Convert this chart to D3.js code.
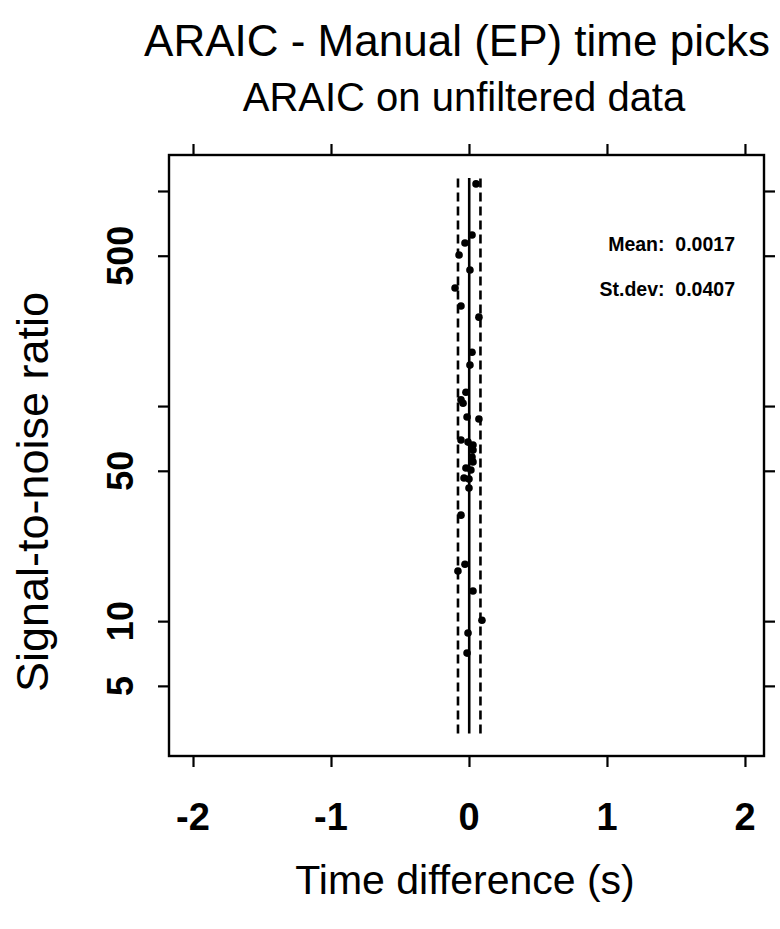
<!DOCTYPE html>
<html>
<head>
<meta charset="utf-8">
<script src="https://cdn.jsdelivr.net/npm/d3@7"></script>
<style>
    body { margin: 0; background: #fff; }
    text { font-family: "Liberation Sans", Arial, sans-serif; fill: #000; }
    .tick-label { font-weight: bold; }
</style>
</head>
<body>
<div id="chart"></div>
<script>
// time difference (s) and signal-to-noise ratio of each pick
let timeDiff = [0.051, 0.022, -0.029, -0.072, 0.007, -0.101, -0.058, 0.072, 0.022, 0.007,
    -0.022, -0.058, -0.043, 0.072, -0.014, -0.058, -0.007, 0.029, 0.029, 0.022,
    0.029, -0.022, 0.014, -0.036, 0.000, 0.000, -0.058, -0.029, -0.080, 0.029,
    0.094, -0.007, -0.014];
let snr = [1079, 624, 573, 504, 429, 354, 292, 259, 178, 155,
    116, 107, 103, 87, 89, 69.5, 68, 65.9, 62.4, 57.9,
    55, 51.5, 50.4, 46.3, 45.8, 41.6, 31.1, 18.4, 17.1, 13.8,
    10.1, 8.8, 7.1];

let meanDiff = 0.0017,
    sdDiff = 0.0407;
let lineSnr = [3, 1150];

let xTicks = [-2, -1, 0, 1, 2];
let yTicks = [5, 10, 50, 100, 500, 1000];
let yLabels = [5, 10, 50, 500];

let width = 780,
    height = 929;
let box = {
    left: 169,
    right: 764,
    top: 155,
    bottom: 756
};

let svg = d3.select('#chart').append('svg')
    .attr('width', width)
    .attr('height', height);

let x = d3.scaleLinear()
    .domain([-2.174, 2.138])
    .range([box.left, box.right]);

let y = d3.scaleLog()
    .domain([2.36, 1470])
    .range([box.bottom, box.top]);

// titles
svg.append('text')
    .attr('x', 457)
    .attr('y', 56)
    .attr('text-anchor', 'middle')
    .style('font-size', '44px')
    .text('ARAIC - Manual (EP) time picks');

svg.append('text')
    .attr('x', 464)
    .attr('y', 111)
    .attr('text-anchor', 'middle')
    .style('font-size', '40px')
    .text('ARAIC on unfiltered data');

// axes on all four sides, ticks pointing out
let tickLen = 11;
svg.append('g')
    .attr('transform', 'translate(0,' + box.bottom + ')')
    .call(d3.axisBottom(x).tickValues(xTicks).tickSize(tickLen).tickFormat(''));
svg.append('g')
    .attr('transform', 'translate(0,' + box.top + ')')
    .call(d3.axisTop(x).tickValues(xTicks).tickSize(tickLen).tickFormat(''));
svg.append('g')
    .attr('transform', 'translate(' + box.left + ',0)')
    .call(d3.axisLeft(y).tickValues(yTicks).tickSize(tickLen).tickFormat(''));
svg.append('g')
    .attr('transform', 'translate(' + box.right + ',0)')
    .call(d3.axisRight(y).tickValues(yTicks).tickSize(tickLen).tickFormat(''));

svg.selectAll('.domain').remove();
svg.selectAll('.tick line')
    .attr('stroke', '#000')
    .attr('stroke-width', 2.2);

svg.append('rect')
    .attr('x', box.left)
    .attr('y', box.top)
    .attr('width', box.right - box.left)
    .attr('height', box.bottom - box.top)
    .attr('fill', 'none')
    .attr('stroke', '#000')
    .attr('stroke-width', 2.4);

// tick labels
svg.selectAll('.x-label')
    .data(xTicks)
    .enter().append('text')
    .attr('class', 'tick-label')
    .attr('x', d => x(d))
    .attr('y', 830)
    .attr('text-anchor', 'middle')
    .style('font-size', '38px')
    .text(d => d);

svg.selectAll('.y-label')
    .data(yLabels)
    .enter().append('text')
    .attr('class', 'tick-label')
    .attr('transform', d => 'translate(133,' + y(d) + ') rotate(-90)')
    .attr('text-anchor', 'middle')
    .style('font-size', '36px')
    .text(d => d);

// axis titles
svg.append('text')
    .attr('x', 465)
    .attr('y', 894)
    .attr('text-anchor', 'middle')
    .style('font-size', '41px')
    .text('Time difference (s)');

svg.append('text')
    .attr('transform', 'translate(48,' + 492 + ') rotate(-90)')
    .attr('text-anchor', 'middle')
    .style('font-size', '45px')
    .text('Signal-to-noise ratio');

// mean and +/- 2 sd lines
let vlines = [
    { v: meanDiff, dash: null },
    { v: meanDiff - 2 * sdDiff, dash: '9,5' },
    { v: meanDiff + 2 * sdDiff, dash: '9,5' }
];
svg.selectAll('.vline')
    .data(vlines)
    .enter().append('line')
    .attr('x1', d => x(d.v))
    .attr('x2', d => x(d.v))
    .attr('y1', y(lineSnr[0]))
    .attr('y2', y(lineSnr[1]))
    .attr('stroke', '#000')
    .attr('stroke-width', 2.6)
    .attr('stroke-dasharray', d => d.dash);

// the picks
svg.selectAll('.pt')
    .data(timeDiff)
    .enter().append('circle')
    .attr('cx', d => x(d))
    .attr('cy', (d, i) => y(snr[i]))
    .attr('r', 3.8)
    .attr('fill', '#000');

// statistics
let stats = ['Mean:  ' + meanDiff.toFixed(4), 'St.dev:  ' + sdDiff.toFixed(4)];
svg.selectAll('.stat')
    .data(stats)
    .enter().append('text')
    .attr('x', 735)
    .attr('y', (d, i) => 251 + i * 45)
    .attr('text-anchor', 'end')
    .style('font-size', '19.5px')
    .style('font-weight', 'bold')
    .style('white-space', 'pre')
    .attr('xml:space', 'preserve')
    .text(d => d);
</script>
</body>
</html>
